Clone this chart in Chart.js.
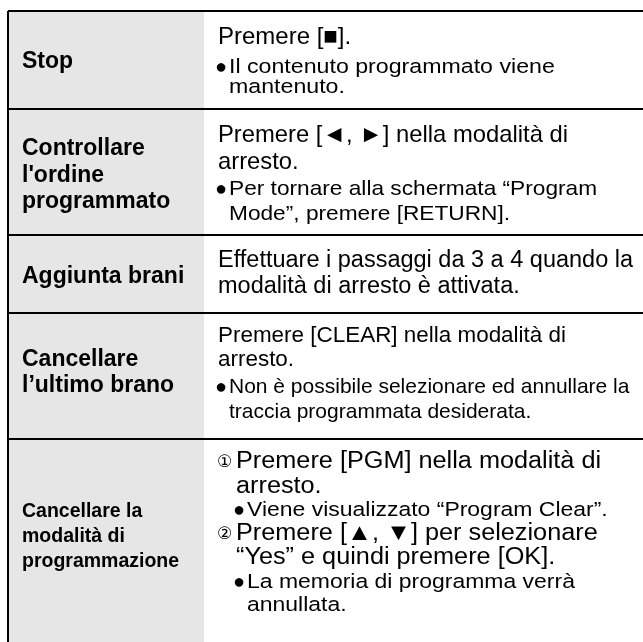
<!DOCTYPE html>
<html>
<head>
<meta charset="utf-8">
<script src="https://cdn.jsdelivr.net/npm/chart.js@4.4.0/dist/chart.umd.min.js"></script>
<style>
  html, body { margin: 0; padding: 0; background: #fff; }
  #wrap { width: 643px; height: 642px; }
</style>
</head>
<body>
<div id="wrap"><canvas id="tabellaProgramma"></canvas></div>
<script>
// Table content: one label per row, one list of paragraphs per row
const rowLabels = [
    ['Stop'],
    ['Controllare', "l'ordine", 'programmato'],
    ['Aggiunta brani'],
    ['Cancellare', 'l’ultimo brano'],
    ['Cancellare la', 'modalità di', 'programmazione']
];
const rowHeights = [98, 126, 78, 126, 203];
const labelColWidth = 196;
const tableWidth = 640;

const rowContents = [
    [
        { kind: 'text', lines: ['Premere [■].'] },
        { kind: 'note', lines: ['Il contenuto programmato viene', 'mantenuto.'] }
    ],
    [
        { kind: 'text', lines: ['Premere [◄, ►] nella modalità di', 'arresto.'] },
        { kind: 'note', lines: ['Per tornare alla schermata “Program', 'Mode”, premere [RETURN].'] }
    ],
    [
        { kind: 'text', lines: ['Effettuare i passaggi da 3 a 4 quando la', 'modalità di arresto è attivata.'] }
    ],
    [
        { kind: 'text', lines: ['Premere [CLEAR] nella modalità di', 'arresto.'] },
        { kind: 'note', lines: ['Non è possibile selezionare ed annullare la', 'traccia programmata desiderata.'] }
    ],
    [
        { kind: 'step', mark: '①', lines: ['Premere [PGM] nella modalità di', 'arresto.'] },
        { kind: 'note', lines: ['Viene visualizzato “Program Clear”.'] },
        { kind: 'step', mark: '②', lines: ['Premere [▲, ▼] per selezionare', '“Yes” e quindi premere [OK].'] },
        { kind: 'note', lines: ['La memoria di programma verrà', 'annullata.'] }
    ]
];

// Typography per row (sizes, horizontal scale and line spacing)
const rowStyles = [
    { labelSize: 23, labelFirst: 57, labelLead: 26.5, mainSize: 24, mainScale: 1, noteSize: 20.5, noteScale: 1.13, first: 33, lead: 26, gap: 29, noteLead: 20 },
    { labelSize: 23, labelFirst: 46, labelLead: 26.5, mainSize: 23.8, mainScale: 1, noteSize: 21, noteScale: 1.08, first: 33, lead: 27, gap: 26, noteLead: 25 },
    { labelSize: 23, labelFirst: 48, labelLead: 26.5, mainSize: 23.5, mainScale: 1, noteSize: 21, noteScale: 1, first: 32, lead: 26, gap: 26, noteLead: 25 },
    { labelSize: 23, labelFirst: 53, labelLead: 26, mainSize: 22, mainScale: 1.02, noteSize: 21, noteScale: 1, first: 29, lead: 24, gap: 27, noteLead: 25 },
    { labelSize: 19.5, labelFirst: 78, labelLead: 25, mainSize: 23.5, mainScale: 1.075, noteSize: 20.5, noteScale: 1.12, first: 29, lead: 24.5, gap: 23.5, noteLead: 23 }
];

const FONT = '"Liberation Sans", Arial, "DejaVu Sans", "Noto Sans CJK JP", sans-serif';
const tableHeight = rowHeights.reduce((a, b) => a + b, 0);

// row boundaries (top of each row plus the bottom)
const rowTops = [0];
rowHeights.forEach(h => rowTops.push(rowTops[rowTops.length - 1] + h));

const ruleDatasets = rowTops.slice(0, rowHeights.length).map(y => ({
    data: [{ x: 0, y: y }, { x: tableWidth, y: y }],
    borderColor: '#000',
    borderWidth: 2,
    pointRadius: 0,
    fill: false,
    clip: false
}));

const leftBorder = {
    data: [{ x: 0, y: 0 }, { x: 0, y: tableHeight }],
    borderColor: '#000',
    borderWidth: 2,
    pointRadius: 0,
    fill: false,
    clip: false
};

const labelColumn = {
    data: [{ x: 0, y: 0 }, { x: labelColWidth, y: 0 }],
    borderWidth: 0,
    borderColor: 'rgba(0,0,0,0)',
    backgroundColor: '#e6e6e6',
    pointRadius: 0,
    fill: { value: tableHeight }
};

function drawText(ctx, text, px, py, font, scaleX) {
    ctx.save();
    ctx.font = font;
    ctx.translate(px, py);
    ctx.scale(scaleX, 1);
    ctx.fillText(text, 0, 0);
    ctx.restore();
}

// Writes labels and contents using the chart scales
const tableText = {
    id: 'tableText',
    afterDatasetsDraw(chart) {
        const { ctx, scales: { x, y } } = chart;
        ctx.save();
        ctx.fillStyle = '#000';
        ctx.textBaseline = 'alphabetic';
        ctx.textAlign = 'left';

        rowLabels.forEach((lines, i) => {
            const st = rowStyles[i];
            lines.forEach((line, j) => {
                drawText(ctx, line, x.getPixelForValue(14), y.getPixelForValue(rowTops[i] + st.labelFirst + j * st.labelLead),
                    `bold ${st.labelSize}px ${FONT}`, 1);
            });
        });

        rowContents.forEach((paras, i) => {
            const st = rowStyles[i];
            const hasSteps = paras.some(p => p.kind === 'step');
            const base = labelColWidth + 14;
            const mainFont = `${st.mainSize}px ${FONT}`;
            const noteFont = `${st.noteSize}px ${FONT}`;
            let yy = rowTops[i] + st.first;
            let firstLine = true;
            paras.forEach(p => {
                p.lines.forEach((line, j) => {
                    if (!firstLine) {
                        yy += j === 0 ? st.gap : (p.kind === 'note' ? st.noteLead : st.lead);
                    }
                    firstLine = false;
                    const py = y.getPixelForValue(yy);
                    if (p.kind === 'note') {
                        const nx = hasSteps ? base + 18 : base;
                        if (j === 0) {
                            drawText(ctx, '●', x.getPixelForValue(nx - 3), py, `20px ${FONT}`, 1);
                        }
                        drawText(ctx, line, x.getPixelForValue(nx + 11), py, noteFont, st.noteScale);
                    } else if (p.kind === 'step') {
                        if (j === 0) {
                            drawText(ctx, p.mark, x.getPixelForValue(base - 1), py - 1, `17px ${FONT}`, 1);
                        }
                        drawText(ctx, line, x.getPixelForValue(base + 18), py, mainFont, st.mainScale);
                    } else {
                        drawText(ctx, line, x.getPixelForValue(base), py, mainFont, st.mainScale);
                    }
                });
            });
        });
        ctx.restore();
    }
};

new Chart(document.getElementById('tabellaProgramma'), {
    type: 'line',
    data: { datasets: [...ruleDatasets, leftBorder, labelColumn] },
    options: {
        responsive: true,
        maintainAspectRatio: false,
        animation: false,
        devicePixelRatio: 1,
        layout: { padding: { left: 8, top: 11, right: 0, bottom: 0 } },
        plugins: { legend: { display: false }, tooltip: { enabled: false } },
        scales: {
            x: { type: 'linear', min: 0, max: 635, display: false },
            y: { type: 'linear', min: 0, max: 631, reverse: true, display: false }
        }
    },
    plugins: [tableText]
});
</script>
</body>
</html>
